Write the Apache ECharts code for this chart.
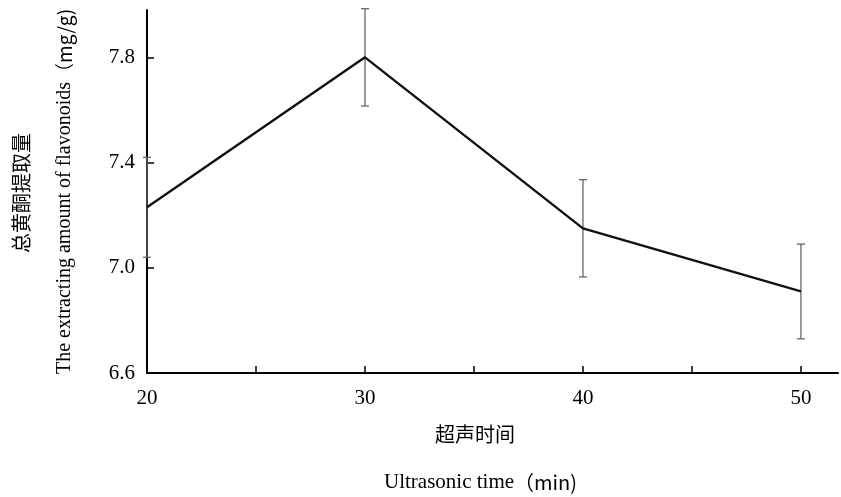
<!DOCTYPE html>
<html>
<head>
<meta charset="utf-8">
<script src="https://cdn.jsdelivr.net/npm/echarts@6/dist/echarts.min.js"></script>
<style>
  html, body { margin: 0; padding: 0; background: #fff; }
  #chart { width: 841px; height: 497px; }
</style>
</head>
<body>
<div id="chart"></div>
<script>
const elChart = document.getElementById('chart');

// Data
const times = [20, 30, 40, 50];
const amounts = [7.23, 7.80, 7.15, 6.91];
const errors = [0.19, 0.185, 0.185, 0.18];
const yTicks = [6.6, 7.0, 7.4, 7.8];

const serif = '"Liberation Serif", "Times New Roman", serif';
const sans = '"Noto Sans CJK SC", "Noto Sans", sans-serif';

const lineData = times.map((t, i) => [t, amounts[i]]);
const errorData = times.map((t, i) => [t, amounts[i] - errors[i], amounts[i] + errors[i]]);

const chart = echarts.init(elChart);

const option = {
    animation: false,
    grid: {
        left: 147,
        top: 10,
        right: 3,
        bottom: 124,
    },

    xAxis: {
        type: 'value',
        min: 20,
        max: 51.7,
        interval: 5,
        splitLine: { show: false },
        axisLine: { lineStyle: { color: '#000', width: 2 } },
        axisTick: { inside: true, length: 7, lineStyle: { color: '#000', width: 1.5 } },
        axisLabel: {
            color: '#000',
            fontFamily: serif,
            fontSize: 21,
            margin: 15,
            showMaxLabel: false,
            formatter: v => (v % 10 === 0 ? String(v) : ''),
        },
    },

    yAxis: {
        type: 'value',
        min: 6.6,
        max: 7.98,
        interval: 0.4,
        splitLine: { show: false },
        axisLine: { lineStyle: { color: '#000', width: 2 } },
        axisTick: { inside: true, length: 7, lineStyle: { color: '#000', width: 1.5 } },
        axisLabel: {
            color: '#000',
            fontFamily: serif,
            fontSize: 21,
            margin: 12,
            showMaxLabel: false,
            formatter: v => (yTicks.some(t => Math.abs(t - v) < 1e-6) ? v.toFixed(1) : ''),
        },
        name: '{en|The extracting amount of flavonoids}{zh|（mg/g)}',
        nameLocation: 'middle',
        nameGap: 72,
        nameTextStyle: {
            rich: {
                en: { fontFamily: serif, fontSize: 20, color: '#000' },
                zh: { fontFamily: sans, fontSize: 19, color: '#000' },
            },
        },
    },

    graphic: [
        {
            type: 'text',
            left: 11,
            top: 133,
            rotation: Math.PI / 2,
            style: {
                text: '总黄酮提取量',
                fontFamily: sans,
                fontSize: 20,
                fill: '#000',
            },
        },
        {
            type: 'text',
            left: 435,
            top: 424,
            style: {
                text: '超声时间',
                fontFamily: sans,
                fontSize: 20,
                fill: '#000',
            },
        },
        {
            type: 'text',
            left: 384,
            top: 472,
            style: {
                rich: {
                    en: { fontFamily: serif, fontSize: 21, fill: '#000' },
                    zh: { fontFamily: sans, fontSize: 20, fill: '#000' },
                },
                text: '{en|Ultrasonic time}{zh|（min)}',
            },
        },
    ],

    series: [
        {
            type: 'custom',
            data: errorData,
            z: 1,
            renderItem: (params, api) => {
                const x = api.value(0);
                const lo = api.coord([x, api.value(1)]);
                const hi = api.coord([x, api.value(2)]);
                const cap = 4;
                const style = { stroke: '#666', lineWidth: 1.3 };
                return {
                    type: 'group',
                    children: [
                        { type: 'line', shape: { x1: lo[0], y1: lo[1], x2: hi[0], y2: hi[1] }, style },
                        { type: 'line', shape: { x1: lo[0] - cap, y1: lo[1], x2: lo[0] + cap, y2: lo[1] }, style },
                        { type: 'line', shape: { x1: hi[0] - cap, y1: hi[1], x2: hi[0] + cap, y2: hi[1] }, style },
                    ],
                };
            },
        },
        {
            type: 'line',
            data: lineData,
            z: 2,
            symbol: 'none',
            lineStyle: { color: '#111', width: 2.4 },
        },
    ],
};

chart.setOption(option);
</script>
</body>
</html>
